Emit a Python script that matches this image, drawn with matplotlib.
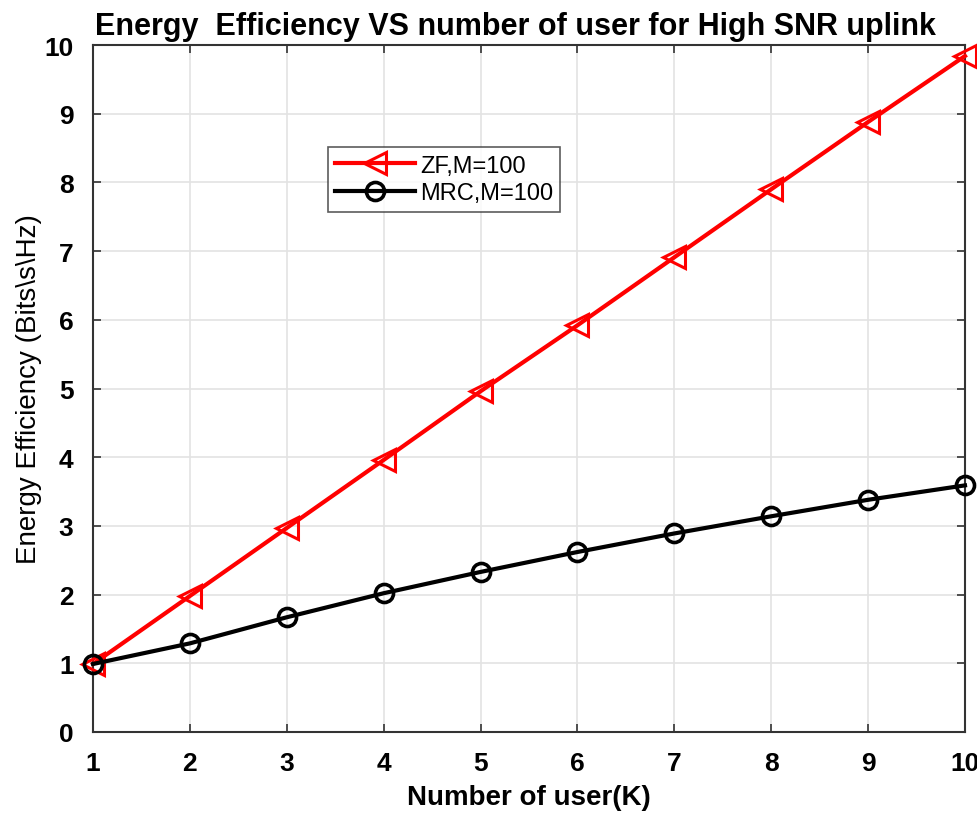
import numpy as np
import matplotlib
matplotlib.use('Agg')
import matplotlib.pyplot as plt

# users K and energy efficiency for each receiver
users = [1, 2, 3, 4, 5, 6, 7, 8, 9, 10]
ee_zf = [0.99, 1.98, 2.97, 3.96, 4.96, 5.92, 6.91, 7.90, 8.88, 9.84]
ee_mrc = [0.99, 1.29, 1.67, 2.02, 2.33, 2.62, 2.89, 3.14, 3.38, 3.59]

plt.rcParams['font.family'] = ['Liberation Sans', 'DejaVu Sans']

fig = plt.figure(figsize=(9.78, 8.2), dpi=100)
ax = fig.add_axes([0.0951, 0.1061, 0.8916, 0.8378])

ax.plot(users, ee_zf, color='red', lw=3.0, marker='<', ms=16,
        mfc='none', mec='red', mew=2.2, label='ZF,M=100', zorder=3,
        clip_on=False)
ax.plot(users, ee_mrc, color='black', lw=3.0, marker='o', ms=13,
        mfc='none', mec='black', mew=2.6, label='MRC,M=100', zorder=3,
        clip_on=False)

ax.set_xlim(1, 10)
ax.set_ylim(0, 10)
ax.set_xticks(range(1, 11))
ax.set_yticks(range(0, 11))
ax.grid(True, color='#e3e3e3', lw=1.2)
ax.set_axisbelow(True)
ax.tick_params(direction='in', top=True, right=True, length=6,
               width=1.2, labelsize=19, color='#333333')
ax.tick_params(axis='x', pad=14)
ax.tick_params(axis='y', pad=14)
for lbl in ax.get_xticklabels() + ax.get_yticklabels():
    lbl.set_fontweight('bold')
for sp in ax.spines.values():
    sp.set_linewidth(1.5)
    sp.set_color('#333333')

ax.set_title('Energy  Efficiency VS number of user for High SNR uplink',
             fontsize=22, fontweight='bold', pad=8, x=0.485)
ax.set_xlabel('Number of user(K)', fontsize=20, fontweight='bold', labelpad=6)
ax.set_ylabel('Energy Efficiency (Bits\\s\\Hz)', fontsize=20, labelpad=2)

leg = ax.legend(loc='upper left', bbox_to_anchor=(0.2556, 0.868),
                frameon=True, fancybox=False,
                handlelength=3.4, borderpad=0.3, labelspacing=0.25,
                handletextpad=0.2, prop={'size': 17})
leg.get_frame().set_edgecolor('#333333')
leg.get_frame().set_linewidth(1.2)

fig.savefig('out.png', dpi=100)
